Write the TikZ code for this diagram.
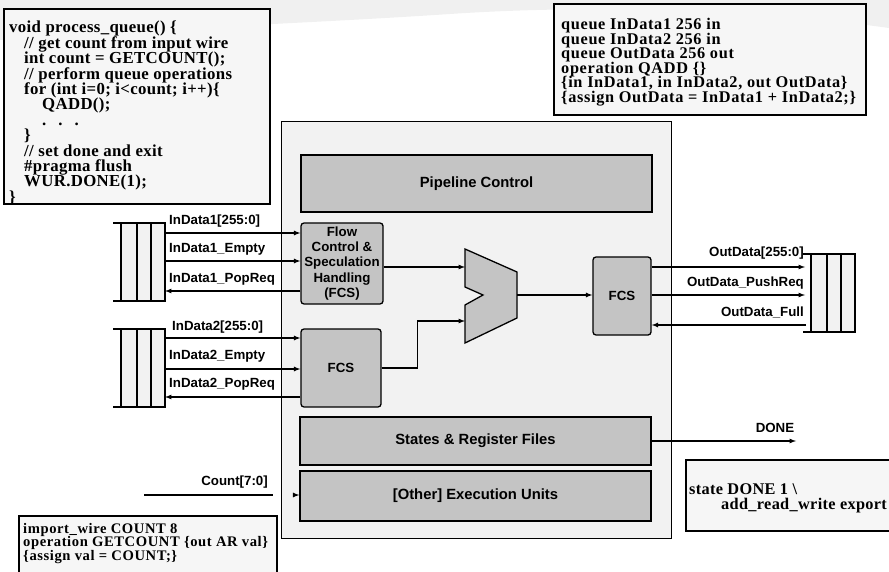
\documentclass[tikz,border=0pt]{standalone}
\usepackage{fontspec}
\setmainfont{Liberation Sans}
\newfontfamily\codefont[LetterSpace=2]{Liberation Serif}
\usepackage{tikz}
\usetikzlibrary{arrows}
\definecolor{unitgray}{HTML}{C4C4C4}
\definecolor{bodygray}{HTML}{F2F2F2}
\definecolor{codegray}{HTML}{F6F6F6}
\newcommand{\sigfont}{\fontsize{13.3}{15.3}\selectfont\bfseries}
\newcommand{\blockfont}{\fontsize{14.8}{16}\selectfont\bfseries}
\newcommand{\codesz}[2]{\codefont\fontsize{#1}{#2}\selectfont\bfseries\lineskiplimit=-20pt}
\tikzstyle{wire}=[line width=1.2pt]
\tikzstyle{sig}=[inner sep=0pt, font=\sigfont]
\tikzstyle{unit}=[draw, line width=1.3pt, fill=unitgray
,inner sep=0pt
,font=\blockfont
]
\tikzstyle{fcs}=[unit, rounded corners=3pt, font=\sigfont]
\tikzstyle{codebox}=[draw, line width=1.6pt, fill=codegray, inner sep=0pt, anchor=north west]
\tikzstyle{codetext}=[inner sep=0pt, anchor=north west, align=left]

\begin{document}
\begin{tikzpicture}[x=1pt,y=-1pt]
    \useasboundingbox (0,0) rectangle (889,572);
    % faint band along the top edge
    \fill[black!6] (0,0) -- (889,0) -- (889,28) .. controls (760,10) and (600,4) .. (450,14) .. controls (300,24) and (120,30) .. (0,40) -- cycle;

    % processor body and its blocks
    \node[draw, line width=1.3pt, fill=bodygray, minimum width=390, minimum height=417, anchor=north west] (core) at (281,121) {};
    \node[unit, minimum width=351, minimum height=57] (pipe) at (476.5,183.5) {Pipeline Control};
    \node[fcs, minimum width=82, minimum height=81, align=center] (fcsA) at (342,263.5) {Flow\\Control \&\\Speculation\\Handling\\(FCS)};
    \node[fcs, minimum width=80, minimum height=78] (fcsB) at (341,368) {FCS};
    \node[fcs, minimum width=58, minimum height=78] (fcsC) at (622,296) {FCS};
    \node[unit, minimum width=351, minimum height=48] (states) at (475.5,441) {States \& Register Files};
    \node[unit, minimum width=351, minimum height=50] (exec) at (475.5,496) {[Other] Execution Units};

    % adder
    \draw[line width=1.3pt, fill=unitgray] (465,249) -- (517,272) -- (517,318) -- (465,343) -- (465,305) -- (483,295) -- (465,287) -- cycle;
    \coordinate (muxA) at (465,267);
    \coordinate (muxB) at (465,321);
    \coordinate (muxO) at (517,295);

    % the three queues
    \foreach \x/\y in {113/223, 113/329, 803/254}{
        \fill[bodygray] (\x+8,\y) rectangle (\x+52,\y+78);
        \draw[wire] (\x,\y) -- (\x+52,\y) -- (\x+52,\y+78) -- (\x,\y+78);
        \foreach \dx in {8,24,38}
            \draw[wire] (\x+\dx,\y) -- (\x+\dx,\y+78);
    }

    % queue ports
    \foreach \pos/\name in {{(165,233)/qaD}, {(165,261)/qaE}, {(165,291)/qaP}, {(165,338)/qbD}, {(165,369)/qbE}, {(165,397)/qbP}, {(805,267)/qoD}, {(805,295)/qoP}, {(806,325)/qoF}}
        \path \pos coordinate (\name);

    % input side
    \foreach \source/\dest in {qaD/fcsA, qaE/fcsA, qbD/fcsB, qbE/fcsB}
        \draw[wire,-latex] (\source) -- (\source -| \dest.west);
    \foreach \dest/\source in {qaP/fcsA, qbP/fcsB}
        \draw[wire,-latex] (\dest -| \source.west) -- (\dest);

    % datapath
    \draw[wire,-latex] (fcsA.east |- muxA) -- (muxA);
    \draw[wire,-latex] (fcsB.east) -- ++(36,0) |- (muxB);
    \draw[wire,-latex] (muxO) -- (muxO -| fcsC.west);

    % output side
    \foreach \dest in {qoD, qoP}
        \draw[wire,-latex] (fcsC.east |- \dest) -- (\dest);
    \draw[wire,-latex] (qoF) -- (qoF -| fcsC.east);

    \coordinate (doneEnd) at (796,441);
    \draw[wire,-latex] (states.east) -- (doneEnd);

    \coordinate (cntA) at (144,495);
    \coordinate (cntB) at (273,495);
    \coordinate (cntC) at (293,495);
    \draw[wire] (cntA) -- (cntB);
    \draw[wire,-latex] (cntC) -- (cntC -| exec.west);

    % signal names
    \foreach \pos/\name/\txt in {{(169,221)/lqaD/InData1[255:0]}, {(169,249)/lqaE/InData1\_Empty}, {(169,279)/lqaP/InData1\_PopReq}, {(172,327)/lqbD/InData2[255:0]}, {(169,356)/lqbE/InData2\_Empty}, {(169,384)/lqbP/InData2\_PopReq}}
        \node[sig, anchor=west] (\name) at \pos {\txt};
    \foreach \pos/\name/\txt in {{(804,253)/lqoD/OutData[255:0]}, {(804,283)/lqoP/OutData\_PushReq}, {(804,312)/lqoF/OutData\_Full}, {(268,482)/lcnt/Count[7:0]}}
        \node[sig, anchor=east] (\name) at \pos {\txt};
    \node[sig] (ldone) at (775,428) {DONE};

    % source snippets
    \node[codebox, minimum width=266, minimum height=195] (prog) at (3,8) {};
    \node[codetext, font=\codesz{16.8}{15.4}] (progtxt) at (9,21) {void process\_queue() \{\\
        \hspace*{15pt}// get count from input wire\\
        \hspace*{15pt}int count = GETCOUNT();\\
        \hspace*{15pt}// perform queue operations\\
        \hspace*{15pt}for (int i=0; i<count; i++)\{\\
        \hspace*{33pt}QADD();\\
        \hspace*{33pt}.\hspace{12pt}.\hspace{12pt}.\\
        \hspace*{15pt}\}\\
        \hspace*{15pt}// set done and exit\\
        \hspace*{15pt}\#pragma flush\\
        \hspace*{15pt}WUR.DONE(1);\\
        \}};

    \node[codebox, minimum width=312, minimum height=111] (queues) at (553,3) {};
    \node[codetext, font=\codesz{16.3}{14.6}\addfontfeatures{LetterSpace=4}] (queuestxt) at (561,18) {queue InData1 256 in\\
        queue InData2 256 in\\
        queue OutData 256 out\\
        operation QADD \{\}\\
        \{in InData1, in InData2, out OutData\}\\
        \{assign OutData = InData1 + InData2;\}};

    \node[codebox, minimum width=258, minimum height=80] (wire) at (18,515) {};
    \node[codetext, font=\codesz{14.6}{13.4}\addfontfeatures{LetterSpace=4}] (wiretxt) at (23,523) {import\_wire COUNT 8\\
        operation GETCOUNT \{out AR val\}\\
        \{assign val = COUNT;\}};

    \node[codebox, minimum width=220, minimum height=71] (state) at (685,459) {};
    \node[codetext, font=\codesz{16.3}{15}] (statetxt) at (689,484) {state DONE 1 \textbackslash\\
        \hspace*{32pt}add\_read\_write export};
\end{tikzpicture}
\end{document}
